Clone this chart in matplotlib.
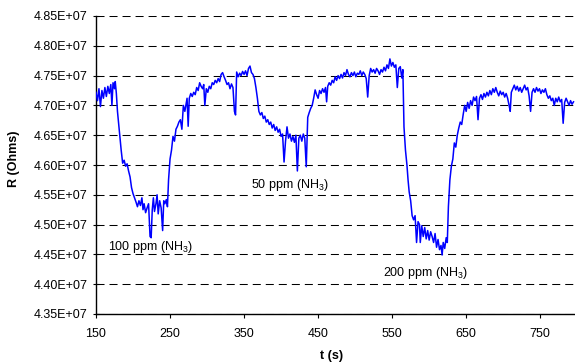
import matplotlib
matplotlib.use("Agg")
import matplotlib.pyplot as plt
from matplotlib.ticker import FuncFormatter, MultipleLocator

plt.rcParams['font.family'] = ['Liberation Sans', 'DejaVu Sans']
plt.rcParams['mathtext.fontset'] = 'custom'
plt.rcParams['mathtext.rm'] = 'Liberation Sans'
plt.rcParams['mathtext.default'] = 'regular'

pairs = [
(150,4.722),(152,4.708),(154,4.728),(156,4.698),(158,4.725),(160,4.712),(162,4.730),(164,4.715),
(166,4.732),(168,4.720),(170,4.735),(171.5,4.700),(173,4.738),(175,4.728),(176,4.740),(177.5,4.720),
(179,4.690),(180.5,4.670),(182,4.650),(184,4.625),(186,4.603),(188,4.608),(190,4.598),(192,4.602),
(194,4.590),(196,4.580),(198,4.562),(200,4.552),(202,4.545),(204,4.538),(206,4.530),(208,4.540),
(210,4.532),(212,4.545),(213.5,4.525),(215,4.535),(217,4.520),(219,4.528),(221,4.535),(223,4.480),
(224.5,4.478),(226,4.525),(227.5,4.545),(229,4.522),(231,4.535),(232.5,4.550),(234,4.518),(236,4.540),
(238,4.528),(240,4.490),(241.5,4.540),(243,4.535),(245,4.542),(246.5,4.530),(248,4.575),(250,4.610),
(252,4.625),(254,4.648),(256,4.640),(258,4.660),(260,4.665),(262,4.672),(264,4.676),(266,4.660),
(268,4.700),(270,4.690),(272,4.705),(273,4.712),(274.5,4.665),(276,4.712),(278,4.720),(280,4.715),
(282,4.722),(284,4.718),(286,4.730),(288,4.725),(290,4.738),(292,4.732),(294,4.728),(295.5,4.735),
(297,4.700),(299,4.728),(301,4.722),(303,4.732),(305,4.728),(307,4.738),(309,4.735),(311,4.742),
(313,4.738),(315,4.745),(317,4.740),(319,4.752),(321,4.755),(323,4.748),(325,4.742),(327,4.735),
(329,4.738),(331,4.728),(333,4.736),(335,4.730),(337,4.690),(338.5,4.684),(340,4.756),(342,4.748),
(344,4.754),(346,4.750),(348,4.757),(350,4.752),(352,4.758),(354,4.750),(356,4.762),(358,4.766),
(360,4.755),(362,4.752),(364,4.745),(366,4.730),(368,4.712),(370,4.690),(372,4.684),(374,4.688),
(376,4.678),(378,4.682),(380,4.672),(382,4.676),(384,4.668),(386,4.672),(388,4.662),(390,4.668),
(392,4.658),(394,4.664),(396,4.655),(398,4.660),(400,4.648),(402,4.652),(404,4.605),(406,4.640),
(408,4.664),(410,4.645),(412,4.652),(414,4.640),(416,4.648),(418,4.638),(420,4.650),(422,4.590),
(424,4.645),(426,4.650),(428,4.640),(430,4.652),(432,4.645),(434,4.597),(436,4.680),(438,4.688),
(440,4.695),(442,4.700),(444,4.712),(446,4.726),(448,4.718),(450,4.712),(452,4.725),(454,4.720),
(456,4.728),(458,4.722),(460,4.730),(461.5,4.706),(463,4.732),(465,4.738),(467,4.734),(469,4.742),
(471,4.738),(473,4.748),(475,4.742),(477,4.750),(479,4.745),(481,4.752),(483,4.746),(485,4.755),
(487,4.750),(489,4.760),(491,4.752),(493,4.748),(495,4.755),(497,4.750),(499,4.756),(501,4.748),
(503,4.754),(505,4.752),(507,4.758),(509,4.750),(511,4.756),(513,4.752),(515,4.745),(517,4.714),
(519,4.750),(521,4.762),(523,4.756),(525,4.760),(527,4.754),(529,4.762),(531,4.758),(533,4.752),
(535,4.760),(537,4.756),(539,4.764),(541,4.758),(543,4.768),(545,4.762),(547,4.778),(549,4.766),
(551,4.772),(553,4.764),(555,4.768),(557,4.730),(559,4.762),(561,4.765),(563,4.746),(564.5,4.760),
(566,4.664),(568,4.625),(570,4.600),(571.5,4.575),(573,4.555),(575,4.540),(577,4.515),(579,4.508),
(581,4.515),(583,4.470),(585,4.505),(587,4.500),(588,4.470),(590,4.498),(592,4.480),(594,4.495),
(596,4.476),(598,4.490),(600,4.474),(602,4.488),(604,4.480),(606,4.470),(608,4.485),(610,4.462),
(612,4.475),(614,4.458),(616,4.465),(617.5,4.449),(619,4.470),(621,4.460),(623,4.478),(624.5,4.470),
(626,4.530),(628,4.575),(630,4.598),(632,4.610),(634,4.637),(636,4.630),(638,4.650),(640,4.662),
(642,4.672),(644,4.668),(646,4.685),(648,4.700),(650,4.690),(652,4.705),(654,4.695),(656,4.708),
(658,4.700),(660,4.714),(662,4.708),(664,4.715),(666,4.676),(668,4.712),(670,4.718),(672,4.710),
(674,4.720),(676,4.714),(678,4.722),(680,4.716),(682,4.725),(684,4.718),(686,4.728),(688,4.722),
(690,4.730),(692,4.722),(694,4.716),(696,4.724),(698,4.718),(700,4.722),(702,4.714),(704,4.720),
(706,4.712),(708,4.700),(709.5,4.690),(711,4.722),(713,4.728),(715,4.734),(717,4.726),(719,4.732),
(721,4.724),(723,4.730),(725,4.722),(727,4.728),(729,4.734),(731,4.726),(733,4.730),(735,4.716),
(737,4.690),(739,4.722),(741,4.728),(743,4.722),(745,4.730),(747,4.724),(749,4.728),(751,4.720),
(753,4.726),(755,4.722),(757,4.728),(759,4.718),(761,4.712),(763,4.716),(765,4.708),(767,4.712),
(769,4.700),(771,4.712),(773,4.706),(775,4.714),(777,4.706),(779,4.710),(781,4.670),(783,4.705),
(785,4.712),(787,4.706),(789,4.700),(791,4.708),(793,4.702),(795,4.706),
]
t_s = [p[0] for p in pairs]
r_e7 = [p[1] for p in pairs]          # resistance in units of 1e7 Ohms
r_ohms = [v * 1e7 for v in r_e7]

x_ticks = [150, 250, 350, 450, 550, 650, 750]
labels = ["100 ppm (NH$_3$)", "50 ppm (NH$_3$)", "200 ppm (NH$_3$)"]
label_t = [166, 359, 538]
label_r = [4.462e7, 4.566e7, 4.419e7]

fig = plt.figure(figsize=(5.75, 3.63), dpi=100)
ax = fig.add_axes([96/575, 49/363, 1 - 96/575, 298/363])

ax.plot(t_s, r_ohms, color='#0000FF', lw=1.1, zorder=3)

ax.set_xlim(150, 797)
ax.set_ylim(4.35e7, 4.85e7)
ax.set_xticks(x_ticks)
ax.yaxis.set_major_locator(MultipleLocator(0.05e7))
ax.yaxis.set_major_formatter(FuncFormatter(lambda v, p: f"{v:.2E}"))

ax.grid(axis='y', color='black', lw=0.75, linestyle=(0, (7.7, 4.8)), zorder=1)
ax.grid(axis='x', visible=False)
for s in ['top', 'right']:
    ax.spines[s].set_visible(False)
for s in ['left', 'bottom']:
    ax.spines[s].set_linewidth(1.0)
    ax.spines[s].set_color('black')

ax.tick_params(axis='x', direction='out', length=3, width=0.8, labelsize=9, pad=7)
ax.tick_params(axis='y', direction='inout', length=5, width=0.8, labelsize=9, pad=3.5)

ax.set_xlabel('t (s)', fontsize=9, fontweight='bold', va='bottom')
ax.set_ylabel('R (Ohms)', fontsize=9, fontweight='bold')
ax.xaxis.set_label_coords((332 - 96) / 479, -0.162)
ax.yaxis.set_label_coords(-0.158, 0.52)

for txt, x, y in zip(labels, label_t, label_r):
    ax.text(x, y, txt, fontsize=9, ha='left', va='center')

fig.savefig('out.png', dpi=100)
